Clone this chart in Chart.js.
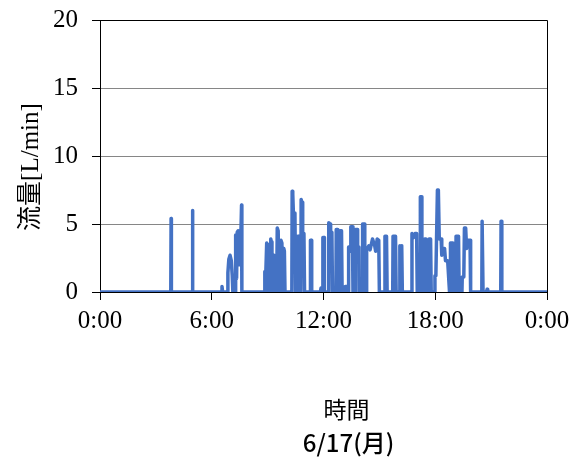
<!DOCTYPE html>
<html>
<head>
<meta charset="utf-8">
<script src="https://cdn.jsdelivr.net/npm/chart.js@4/dist/chart.umd.min.js"></script>
<style>
  html, body { margin: 0; padding: 0; background: #fff; }
  canvas { display: block; }
</style>
</head>
<body>
<canvas id="c" width="574" height="466"></canvas>
<script>
// Flow rate log for one day: time of day in minutes, flow in L/min
const minutes = [
  0, 228, 229, 230, 297, 298, 299,
  391, 393, 395,
  410, 412, 415, 419, 423, 426, 428,
  435, 436, 438, 440, 442, 445, 448, 451, 454, 456, 457,
  530, 531, 533, 537, 539, 541,
  549, 550, 552, 554,
  558, 560, 562, 565,
  569, 571, 574, 577,
  582, 583, 586, 588,
  591, 592, 594, 596,
  618, 619, 621, 623, 628, 630,
  636, 637, 640, 641,
  647, 648, 651, 653, 657, 659,
  677, 678, 681, 682,
  710, 712, 714,
  717, 718, 722, 723,
  736, 737, 741, 743, 747, 749,
  760, 761, 766, 768,
  773, 774, 778, 780,
  788, 790, 793, 795,
  800, 801, 804, 806, 808, 813, 815,
  822, 823, 828, 830, 834, 835,
  845, 846, 851, 853,
  858, 859, 866, 870, 878, 882, 885, 888, 893, 898, 900,
  917, 918, 923, 925,
  943, 944, 952, 954,
  965, 966, 969, 972, 974,
  1004, 1005, 1010, 1015, 1020, 1022,
  1031, 1032, 1035, 1037, 1040, 1043,
  1045, 1046, 1050, 1052,
  1059, 1060, 1065, 1067,
  1078, 1079, 1082, 1087, 1090, 1093, 1099, 1101, 1105, 1110, 1113, 1120, 1126,
  1128, 1129, 1137, 1139,
  1146, 1147, 1155, 1157,
  1166, 1167, 1172, 1174, 1178, 1181, 1183, 1192, 1194,
  1230, 1231, 1233, 1234,
  1245, 1247, 1249,
  1291, 1292, 1294, 1295,
  1440
];
const flow = [
  0, 0, 5.4, 0, 0, 6.0, 0,
  0, 0.4, 0,
  0, 1.4, 2.4, 2.7, 2.3, 1.2, 0,
  0, 4.2, 4.2, 1.0, 4.4, 4.5, 2.0, 4.4, 4.4, 6.4, 0,
  0, 1.5, 0.5, 3.6, 3.5, 0,
  0, 3.9, 3.7, 0,
  0, 2.7, 2.5, 0,
  0, 4.7, 4.5, 0,
  0, 3.8, 3.6, 0,
  0, 3.2, 3.0, 0,
  0, 7.4, 7.2, 5.8, 5.8, 0,
  0, 4.1, 4.1, 0,
  0, 6.8, 6.6, 4.3, 4.3, 0,
  0, 3.8, 3.8, 0,
  0, 0.3, 0,
  0, 4.0, 4.0, 0,
  0, 5.1, 5.0, 4.4, 4.4, 0,
  0, 4.6, 4.6, 0,
  0, 4.5, 4.5, 0,
  0, 0.4, 0.4, 0,
  0, 3.3, 3.3, 3.0, 4.8, 4.8, 0,
  0, 4.6, 4.6, 3.3, 3.3, 0,
  0, 5.0, 5.0, 0,
  0, 3.1, 3.4, 3.1, 3.9, 3.6, 3.4, 3.0, 3.9, 3.8, 0,
  0, 4.1, 4.1, 0,
  0, 4.1, 4.1, 0,
  0, 3.4, 3.3, 3.4, 0,
  0, 4.3, 4.0, 4.3, 4.3, 0,
  0, 7.0, 7.0, 3.1, 3.0, 0,
  0, 3.9, 3.9, 0,
  0, 3.9, 3.9, 0,
  0, 1.2, 1.2, 7.5, 7.5, 3.9, 3.9, 2.7, 3.2, 3.2, 2.3, 2.3, 0,
  0, 3.6, 3.6, 0,
  0, 4.1, 4.1, 0,
  0, 1.1, 1.1, 4.7, 4.7, 3.2, 3.8, 3.8, 0,
  0, 5.2, 5.2, 0,
  0, 0.2, 0,
  0, 5.2, 5.2, 0,
  0
];

const timeTicks = ['0:00', '6:00', '12:00', '18:00', '0:00'];
const flowTicks = [0, 5, 10, 15, 20];
const yTitle = '流量[L/min]';
const xTitleLines = ['時間', '6/17(月)'];

const points = minutes.map((m, i) => ({ x: m, y: flow[i] }));

const serif = "'Liberation Serif', 'Times New Roman', serif";
const cjk = "'Noto Sans CJK JP', sans-serif";

// Frame on the top and right of the plot area
const framePlugin = {
  id: 'frame',
  beforeDatasetsDraw(chart) {
    const { ctx, chartArea: a } = chart;
    const l = Math.round(a.left) + 0.5, r = Math.round(a.right) + 0.5;
    const t = Math.round(a.top) + 0.5, b = Math.round(a.bottom) + 0.5;
    ctx.save();
    ctx.strokeStyle = '#000';
    ctx.lineWidth = 1;
    ctx.beginPath();
    ctx.moveTo(l, t); ctx.lineTo(r, t); ctx.lineTo(r, b);
    ctx.stroke();
    ctx.restore();
  }
};

// Axis titles
const titlePlugin = {
  id: 'titles',
  afterDraw(chart) {
    const { ctx, chartArea: a } = chart;
    ctx.save();
    ctx.fillStyle = '#000';
    ctx.textAlign = 'center';
    ctx.textBaseline = 'middle';
    // vertical title
    ctx.translate(31, 167);
    ctx.rotate(-Math.PI / 2);
    ctx.font = "25px 'Liberation Serif', 'Noto Sans CJK JP', serif";
    ctx.fillText(yTitle, 0, 0);
    ctx.restore();

    ctx.save();
    ctx.fillStyle = '#000';
    ctx.textAlign = 'center';
    ctx.textBaseline = 'middle';
    const cx = (a.left + a.right) / 2 + 23;
    ctx.font = '23px ' + cjk;
    ctx.fillText(xTitleLines[0], cx, 409);
    ctx.font = '500 24px ' + cjk;
    ctx.fillText(xTitleLines[1], cx + 2, 443);
    ctx.restore();
  }
};

new Chart(document.getElementById('c'), {
  type: 'line',
  data: {
    datasets: [{
      data: points,
      borderColor: '#4472C4',
      borderWidth: 3.5,
      pointRadius: 0,
      tension: 0,
      fill: false,
      borderJoinStyle: 'round',
      borderCapStyle: 'round'
    }]
  },
  options: {
    responsive: false,
    animation: false,
    devicePixelRatio: 1,
    layout: { padding: { top: 20, right: 27, left: 0, bottom: 0 } },
    plugins: { legend: { display: false }, tooltip: { enabled: false } },
    scales: {
      x: {
        type: 'linear',
        min: 0,
        max: 1440,
        afterBuildTicks(scale) {
          scale.ticks = timeTicks.map((_, i) => ({ value: i * 360 }));
        },
        afterFit(scale) {
          scale.height = 466 - 292;
          scale.paddingLeft = 0;
          scale.paddingRight = 0;
        },
        ticks: {
          callback: (v, i) => timeTicks[i],
          font: { family: serif, size: 25 },
          color: '#000',
          padding: 6,
          maxRotation: 0,
          autoSkip: false
        },
        grid: { drawOnChartArea: false, tickLength: 8, color: '#000' },
        border: { color: '#000', width: 1 }
      },
      y: {
        min: 0,
        max: 20,
        afterBuildTicks(scale) {
          scale.ticks = flowTicks.map(v => ({ value: v }));
        },
        afterFit(scale) {
          scale.width = 100;
          scale.paddingTop = 0;
          scale.paddingBottom = 0;
        },
        ticks: {
          font: { family: serif, size: 25 },
          color: '#000',
          padding: 14
        },
        grid: {
          color: c => (c.tick && (c.tick.value === 0 || c.tick.value === 20)) ? 'rgba(0,0,0,0)' : '#868686',
          tickColor: '#000',
          tickLength: 8,
          lineWidth: 1
        },
        border: { color: '#000', width: 1 }
      }
    }
  },
  plugins: [framePlugin, titlePlugin]
});
</script>
</body>
</html>
